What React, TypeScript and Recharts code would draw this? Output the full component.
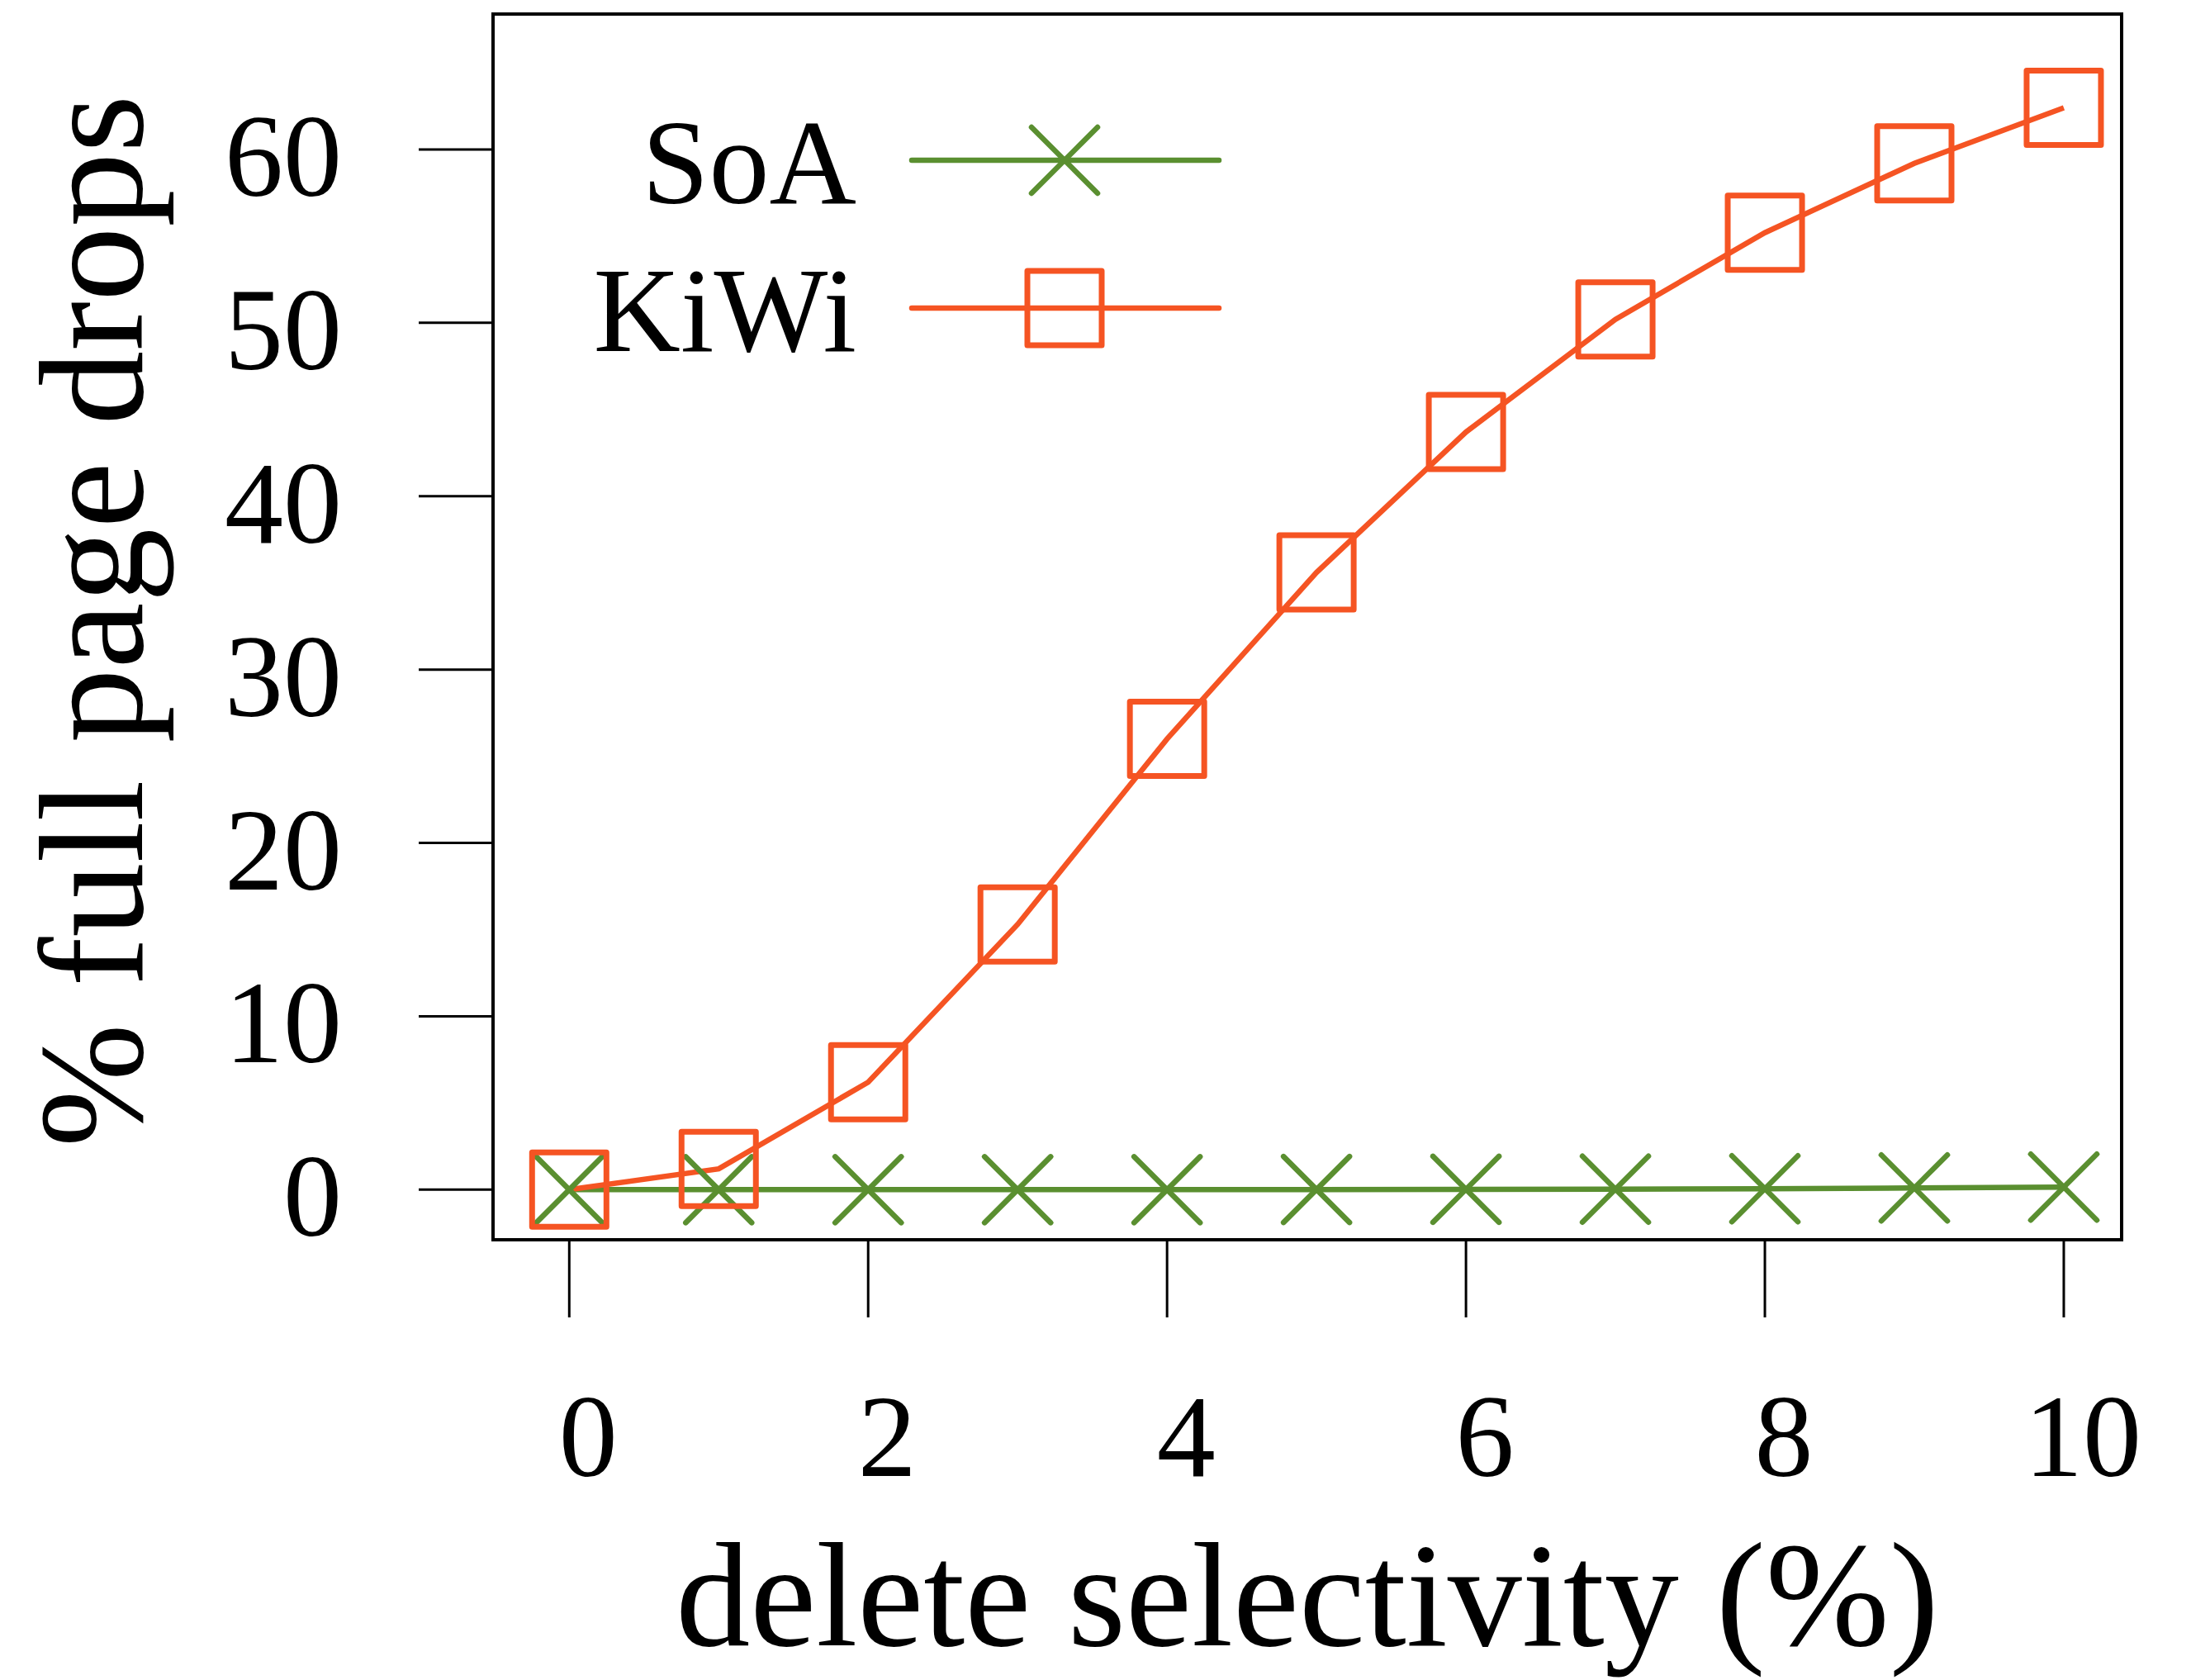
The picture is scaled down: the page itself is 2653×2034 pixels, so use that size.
// Full page drops vs delete selectivity: SoA vs KiWi, R-style boxed plot
import React from 'react';
import { LineChart, Line, XAxis, YAxis, ReferenceArea } from 'recharts';

const selectivity = [0, 1, 2, 3, 4, 5, 6, 7, 8, 9, 10];
const soaDrops = [0, 0, 0, 0, 0, 0.01, 0.02, 0.03, 0.05, 0.1, 0.15];
const kiwiDrops = [0, 1.2, 6.2, 15.3, 26.0, 35.6, 43.7, 50.2, 55.2, 59.2, 62.4];
const xTicks = [0, 2, 4, 6, 8, 10];
const yTicks = [0, 10, 20, 30, 40, 50, 60];
const seriesNames = ['SoA', 'KiWi'];

const X_DOMAIN: [number, number] = [-0.51, 10.387];
const Y_DOMAIN: [number, number] = [-2.89, 67.81];

const GREEN = '#5A8F30';
const ORANGE = '#F55423';
const FONT = '"Liberation Serif", "DejaVu Serif", serif';

const data = selectivity.map((x, i) => ({ x, soa: soaDrops[i], kiwi: kiwiDrops[i] }));

// markers
const Cross = ({ cx, cy }: any) => (
  <g stroke={GREEN} strokeWidth={6.5} strokeLinecap="round" fill="none">
    <line x1={cx - 40} y1={cy - 40} x2={cx + 40} y2={cy + 40} />
    <line x1={cx - 40} y1={cy + 40} x2={cx + 40} y2={cy - 40} />
  </g>
);

const Square = ({ cx, cy }: any) => (
  <rect x={cx - 45} y={cy - 45} width={90} height={90} fill="none" stroke={ORANGE} strokeWidth={7} strokeLinejoin="round" />
);

const XTick = ({ x, y, payload }: any) => (
  <text x={x + 23} y={y} dy={192} textAnchor="middle" fontFamily={FONT} fontSize={142} fill="#000">
    {payload.value}
  </text>
);

const YTick = ({ x, y, payload }: any) => (
  <text x={x - 93} y={y} dy={56} textAnchor="end" fontFamily={FONT} fontSize={142} fill="#000">
    {payload.value}
  </text>
);

const YLabel = () => (
  <text transform="translate(172, 752) rotate(-90)" textAnchor="middle" fontFamily={FONT} fontSize={180} fill="#000">
    % full page drops
  </text>
);

// legend drawn inside the plot, top-left
const LegendBox = () => {
  const rows = [
    { name: seriesNames[0], color: GREEN, Mark: Cross, y: 194 },
    { name: seriesNames[1], color: ORANGE, Mark: Square, y: 373 },
  ];
  return (
    <g>
      {rows.map((r) => (
        <g key={r.name}>
          <text x={1037} y={r.y + 52} textAnchor="end" fontFamily={FONT} fontSize={146} fill="#000">
            {r.name}
          </text>
          <line x1={1104} x2={1476} y1={r.y} y2={r.y} stroke={r.color} strokeWidth={6.5} strokeLinecap="round" />
          <r.Mark cx={1289} cy={r.y} />
        </g>
      ))}
    </g>
  );
};

export default function App() {
  return (
    <div style={{ position: 'absolute', left: 0, top: 0, background: '#fff' }}>
      <LineChart width={2653} height={2034} data={data} margin={{ top: 17, right: 84, bottom: 0, left: 0 }}>
        <XAxis
          dataKey="x"
          type="number"
          domain={X_DOMAIN}
          ticks={xTicks}
          interval={0}
          allowDataOverflow
          axisLine={false}
          tickSize={94}
          tickMargin={0}
          tickLine={{ stroke: '#000', strokeWidth: 3 }}
          tick={(p: any) => <XTick {...p} />}
          height={533}
          label={{ value: 'delete selectivity (%)', position: 'insideBottom', offset: 42, fontSize: 180, fill: '#000', fontFamily: FONT }}
        />
        <YAxis
          type="number"
          domain={Y_DOMAIN}
          ticks={yTicks}
          interval={0}
          allowDataOverflow
          axisLine={false}
          tickSize={90}
          tickMargin={0}
          tickLine={{ stroke: '#000', strokeWidth: 3 }}
          tick={(p: any) => <YTick {...p} />}
          width={597}
          label={{ content: () => <YLabel /> }}
        />
        <ReferenceArea
          x1={X_DOMAIN[0]}
          x2={X_DOMAIN[1]}
          y1={Y_DOMAIN[0]}
          y2={Y_DOMAIN[1]}
          fill="none"
          stroke="#000"
          strokeWidth={4}
          ifOverflow="visible"
        />
        <Line
          dataKey="soa"
          name={seriesNames[0]}
          stroke={GREEN}
          strokeWidth={6.5}
          dot={(p: any) => <Cross key={`s${p.index}`} {...p} />}
          activeDot={false}
          isAnimationActive={false}
        />
        <Line
          dataKey="kiwi"
          name={seriesNames[1]}
          stroke={ORANGE}
          strokeWidth={6.5}
          dot={(p: any) => <Square key={`k${p.index}`} {...p} />}
          activeDot={false}
          isAnimationActive={false}
        />
        <LegendBox />
      </LineChart>
    </div>
  );
}
